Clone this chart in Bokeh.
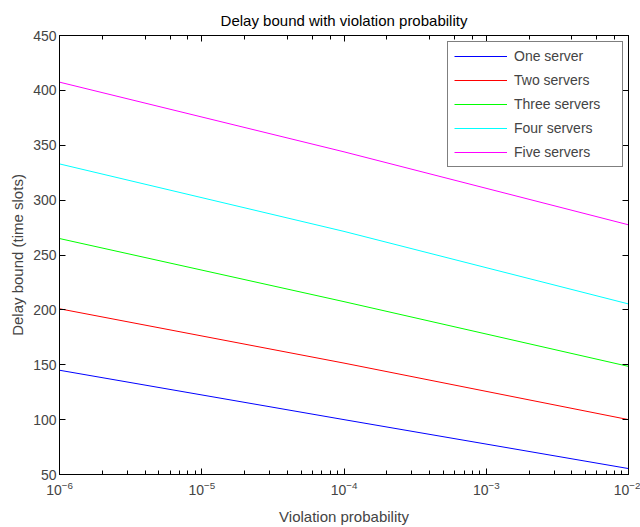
from bokeh.plotting import figure
from bokeh.models import (LogAxis, LinearAxis, LogTicker, SingleIntervalTicker,
                          Legend, LegendItem, Range1d, CustomJSTickFormatter)
from bokeh.embed import file_html
from bokeh.resources import INLINE

# ---- data ----
violation_prob = [1e-6, 1e-4, 1e-2]
one_server = [145.0, 100.0, 55.4]
two_servers = [201.0, 151.5, 100.0]
three_servers = [265.0, 207.5, 148.5]
four_servers = [333.0, 271.5, 205.4]
five_servers = [407.5, 344.0, 277.5]
series_names = ["One server", "Two servers", "Three servers", "Four servers", "Five servers"]
series_colors = ["#0000ff", "#ff0000", "#00ff00", "#00ffff", "#ff00ff"]
y_ticks_interval = 50

FONT = "Liberation Sans"

p = figure(width=640, height=527, x_axis_type="log",
           x_range=Range1d(1e-6, 1e-2), y_range=Range1d(50, 450),
           output_backend="svg", toolbar_location=None,
           min_border_left=59, min_border_right=12, min_border_top=35, min_border_bottom=52)

p.title.text = "Delay bound with violation probability"
p.title.align = "center"
p.title.text_font = FONT
p.title.text_font_size = "15px"
p.title.text_font_style = "normal"
p.title.text_color = "black"
p.title.standoff = 14

p.grid.visible = False
p.outline_line_color = "black"
p.outline_line_width = 1
p.background_fill_color = "white"
p.border_fill_color = "white"

series = [one_server, two_servers, three_servers, four_servers, five_servers]
items = []
for name, col, ys in zip(series_names, series_colors, series):
    r = p.line(violation_prob, ys, line_color=col, line_width=1)
    items.append(LegendItem(label=name, renderers=[r]))

# bottom x axis
xa = p.xaxis[0]
xa.axis_label = "Violation probability"
xa.axis_label_text_font = FONT
xa.axis_label_text_font_size = "15px"
xa.axis_label_text_font_style = "normal"
xa.axis_label_standoff = 10
xa.major_label_text_font = FONT
xa.major_label_text_font_size = "14px"
xa.major_label_standoff = 6
xa.major_tick_in = 6
xa.major_tick_out = 0
xa.minor_tick_in = 4
xa.minor_tick_out = 0
xa.axis_line_color = "black"
xa.major_tick_line_color = "black"
xa.minor_tick_line_color = "black"

# left y axis
ya = p.yaxis[0]
ya.ticker = SingleIntervalTicker(interval=y_ticks_interval, num_minor_ticks=0)
ya.axis_label = "Delay bound (time slots)"
ya.axis_label_text_font = FONT
ya.axis_label_text_font_size = "15px"
ya.axis_label_text_font_style = "normal"
ya.axis_label_standoff = 4
ya.major_label_text_font = FONT
ya.major_label_text_font_size = "14px"
ya.major_label_standoff = 3
ya.major_tick_in = 6
ya.major_tick_out = 0
ya.minor_tick_line_color = None
ya.axis_line_color = "black"
ya.major_tick_line_color = "black"

# mirrored top axis (ticks only)
top = LogAxis(ticker=LogTicker(), formatter=CustomJSTickFormatter(code="return '';"))
top.major_label_standoff = 0
top.major_tick_in = 6
top.major_tick_out = 0
top.minor_tick_in = 4
top.minor_tick_out = 0
top.axis_line_color = "black"
p.add_layout(top, "above")

# mirrored right axis (ticks only)
right = LinearAxis(ticker=SingleIntervalTicker(interval=y_ticks_interval, num_minor_ticks=0),
                   formatter=CustomJSTickFormatter(code="return '';"))
right.major_label_standoff = 0
right.major_tick_in = 6
right.major_tick_out = 0
right.minor_tick_line_color = None
right.axis_line_color = "black"
p.add_layout(right, "right")

legend = Legend(items=items, location=(388, 307))
legend.label_text_font = FONT
legend.label_text_font_size = "14px"
legend.glyph_width = 53
legend.glyph_height = 16
legend.label_height = 16
legend.label_width = 102
legend.label_standoff = 7
legend.spacing = 8
legend.padding = 6
legend.margin = 0
legend.border_line_color = "black"
legend.border_line_width = 1
legend.background_fill_color = "white"
legend.background_fill_alpha = 1
p.add_layout(legend, "center")

open("out.html", "w").write(file_html(p, INLINE))
